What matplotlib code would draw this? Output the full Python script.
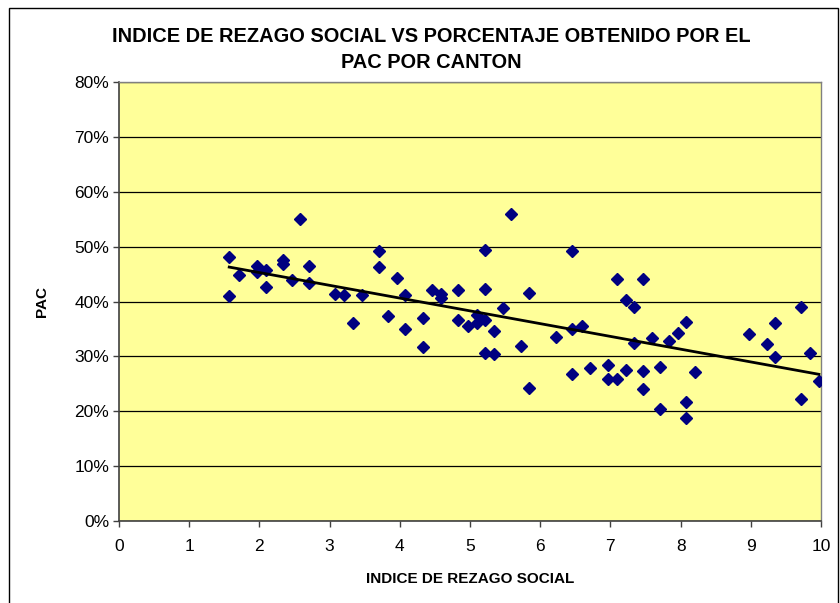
import numpy as np
import matplotlib.pyplot as plt
from matplotlib.patches import Rectangle
from matplotlib.ticker import PercentFormatter

# indice de rezago social por canton
rezago = [1.57, 1.57, 1.71, 1.96, 1.96, 2.09, 2.09, 2.33, 2.33, 2.46,
          2.58, 2.71, 2.71, 3.08, 3.21, 3.33, 3.46, 3.71, 3.71, 3.83,
          3.96, 4.08, 4.08, 4.33, 4.33, 4.46, 4.58, 4.58, 4.83, 4.83,
          4.97, 5.10, 5.10, 5.22, 5.22, 5.22, 5.22, 5.34, 5.34, 5.47,
          5.59, 5.72, 5.84, 5.84, 6.22, 6.46, 6.46, 6.46, 6.59, 6.71,
          6.97, 6.97, 7.09, 7.09, 7.22, 7.22, 7.34, 7.34, 7.46, 7.46,
          7.46, 7.59, 7.71, 7.71, 7.83, 7.96, 8.08, 8.08, 8.08, 8.21,
          8.97, 9.23, 9.35, 9.35, 9.72, 9.72, 9.84, 9.97]

# porcentaje obtenido por el PAC
pac = [0.481, 0.410, 0.449, 0.465, 0.454, 0.457, 0.427, 0.475, 0.468, 0.439,
       0.550, 0.465, 0.434, 0.413, 0.411, 0.360, 0.411, 0.492, 0.463, 0.373,
       0.443, 0.411, 0.349, 0.370, 0.317, 0.421, 0.413, 0.406, 0.421, 0.366,
       0.355, 0.375, 0.360, 0.493, 0.423, 0.367, 0.307, 0.347, 0.304, 0.389,
       0.559, 0.319, 0.415, 0.242, 0.336, 0.492, 0.350, 0.267, 0.355, 0.278,
       0.284, 0.258, 0.259, 0.441, 0.403, 0.276, 0.390, 0.324, 0.441, 0.274,
       0.240, 0.334, 0.281, 0.205, 0.328, 0.342, 0.362, 0.217, 0.187, 0.272,
       0.341, 0.322, 0.360, 0.299, 0.390, 0.222, 0.307, 0.256]

x_ticks = list(range(0, 11))
y_ticks = [0, 0.1, 0.2, 0.3, 0.4, 0.5, 0.6, 0.7, 0.8]

plt.rcParams['font.family'] = ['Liberation Sans', 'DejaVu Sans']

fig = plt.figure(figsize=(8.4, 6.03), dpi=100)
ax = fig.add_axes([119 / 840, 1 - 521 / 603, (821 - 119) / 840, (521 - 82) / 603])

# marco del area del grafico
fig.patches.append(Rectangle((9 / 840, -0.05), (838 - 9) / 840, 1.05 - 8 / 603,
                             transform=fig.transFigure, fill=False,
                             edgecolor='black', linewidth=1))

ax.set_facecolor('#FFFF99')
ax.set_xlim(0, 10)
ax.set_ylim(0, 0.8)
ax.set_xticks(x_ticks)
ax.set_yticks(y_ticks)
ax.yaxis.set_major_formatter(PercentFormatter(1.0, decimals=0))
ax.grid(axis='y', color='black', linewidth=0.9)
ax.set_axisbelow(True)

for lado in ['top', 'right']:
    ax.spines[lado].set_color('#808080')
    ax.spines[lado].set_linewidth(1)
for lado in ['left', 'bottom']:
    ax.spines[lado].set_color('#404040')
    ax.spines[lado].set_linewidth(1.2)

ax.tick_params(direction='out', length=4, width=1, color='#404040',
               labelsize=12.5, pad=3)
ax.tick_params(axis='x', pad=9)

ax.plot(rezago, pac, linestyle='none', marker='D', markersize=6,
        color='#000080', markeredgecolor='#000080', zorder=3)

# linea de tendencia
m, b = np.polyfit(rezago, pac, 1)
xt = np.array([min(rezago), max(rezago)])
ax.plot(xt, m * xt + b, color='black', linewidth=2, zorder=4)

ax.set_xlabel('INDICE DE REZAGO SOCIAL', fontsize=11, fontweight='bold', labelpad=13)
ax.set_ylabel('PAC', fontsize=11, fontweight='bold', labelpad=18)

fig.text(431 / 840, 1 - 49.5 / 603,
         'INDICE DE REZAGO SOCIAL VS PORCENTAJE OBTENIDO POR EL\nPAC POR CANTON',
         ha='center', va='center', fontsize=14.4, fontweight='bold', linespacing=1.5)

fig.savefig('out.png', dpi=100)
